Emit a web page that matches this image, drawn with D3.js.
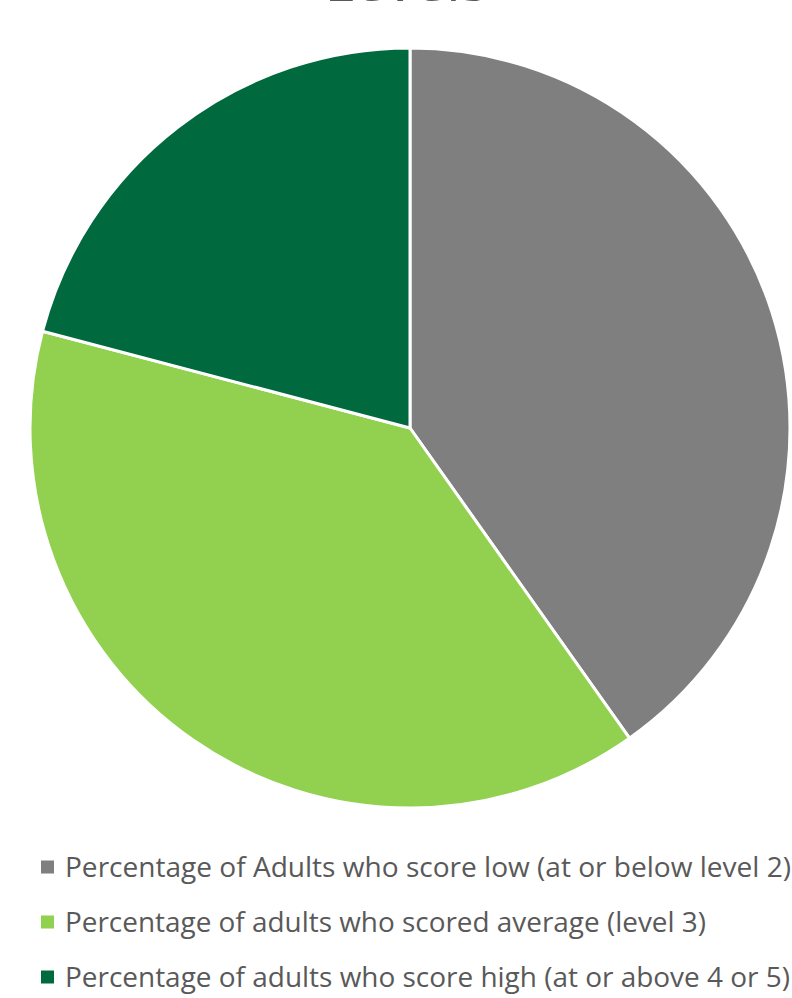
<!DOCTYPE html>
<html>
<head>
<meta charset="utf-8">
<script src="https://cdn.jsdelivr.net/npm/d3@7"></script>
<style>
  body { margin: 0; background: #fff; }
  svg { display: block; font-family: "Open Sans", "Noto Sans", sans-serif; }
</style>
</head>
<body>
<div id="chart"></div>
<script>
// Chart data
const categories = [
    'Percentage of Adults who score low (at or below level 2)',
    'Percentage of adults who scored average (level 3)',
    'Percentage of adults who score high (at or above 4 or 5)'
];
const values = [40.2, 38.9, 20.9];
const colors = ['#7f7f7f', '#92d050', '#00693e'];
const title = 'Levels';

// Chart dimensions
const width = 792;
const height = 998;
const cx = 410, cy = 428, radius = 380;

const svg = d3.select('#chart').append('svg')
    .attr('width', width)
    .attr('height', height);

// Title (mostly cut off at the top edge, as in the original)
svg.append('text')
    .attr('x', 406)
    .attr('y', 1)
    .attr('text-anchor', 'middle')
    .attr('font-size', 50)
    .attr('fill', '#595959')
    .attr('textLength', 163)
    .attr('lengthAdjust', 'spacingAndGlyphs')
    .text(title);

// Pie
const pie = d3.pie().sort(null).value(d => d);
const arc = d3.arc().innerRadius(0).outerRadius(radius);

const g = svg.append('g').attr('transform', `translate(${cx},${cy})`);
g.selectAll('path')
    .data(pie(values))
    .enter().append('path')
    .attr('d', arc)
    .attr('fill', (d, i) => colors[i])
    .attr('stroke', '#fff')
    .attr('stroke-width', 3)
    .attr('stroke-linejoin', 'round');

// Legend
const legendWidths = [726, 641, 725];
const legend = svg.append('g')
    .selectAll('g')
    .data(categories)
    .enter().append('g')
    .attr('transform', (d, i) => `translate(0,${867 + i * 55})`);

legend.append('rect')
    .attr('x', 41)
    .attr('y', -6.5)
    .attr('width', 13)
    .attr('height', 13)
    .attr('fill', (d, i) => colors[i]);

legend.append('text')
    .attr('x', 65)
    .attr('y', 10)
    .attr('font-size', 27)
    .attr('fill', '#595959')
    .attr('textLength', (d, i) => legendWidths[i])
    .attr('lengthAdjust', 'spacingAndGlyphs')
    .text(d => d);
</script>
</body>
</html>
